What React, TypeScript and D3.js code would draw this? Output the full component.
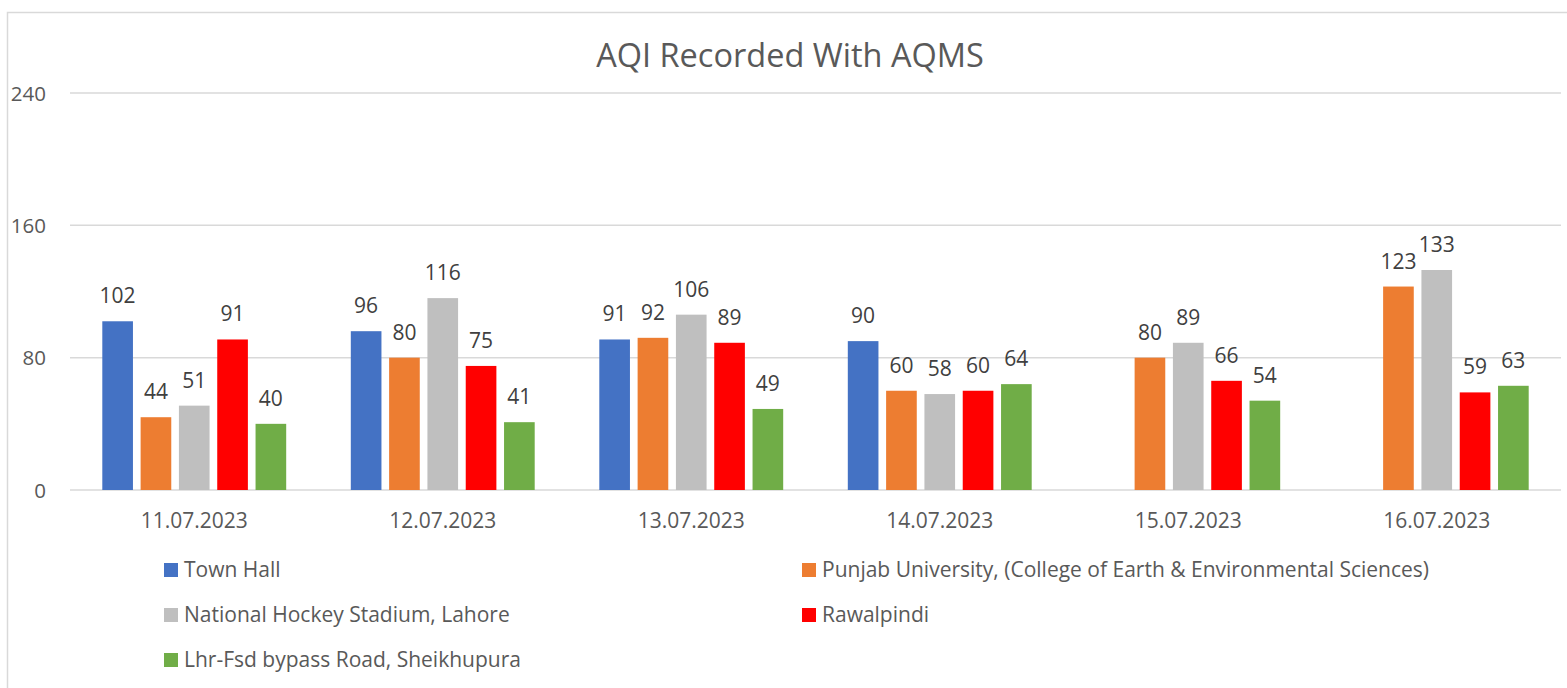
import React, { useEffect, useRef } from "react";
import * as d3 from "d3";

const dates = ["11.07.2023", "12.07.2023", "13.07.2023", "14.07.2023", "15.07.2023", "16.07.2023"];
const stations = [
  "Town Hall",
  "Punjab University, (College of Earth & Environmental Sciences)",
  "National Hockey Stadium, Lahore",
  "Rawalpindi",
  "Lhr-Fsd bypass Road, Sheikhupura",
];
const townHall = [102, 96, 91, 90, null, null];
const punjabUni = [44, 80, 92, 60, 80, 123];
const hockeyStadium = [51, 116, 106, 58, 89, 133];
const rawalpindi = [91, 75, 89, 60, 66, 59];
const sheikhupura = [40, 41, 49, 64, 54, 63];
const yTicks = [0, 80, 160, 240];
const colors = ["#4472C4", "#ED7D31", "#BFBFBF", "#FF0000", "#70AD47"];

const seriesValues = [townHall, punjabUni, hockeyStadium, rawalpindi, sheikhupura];

const App: React.FC = () => {
  const ref = useRef<SVGSVGElement>(null);

  useEffect(() => {
    document.body.style.margin = "0";
    const width = 1567;
    const height = 688;
    const font = "'Open Sans', sans-serif";
    const textColor = "#595959";
    const gridColor = "#d9d9d9";

    const svg = d3.select(ref.current).attr("width", width).attr("height", height);
    svg.selectAll("*").remove();

    // chart frame, cut off at right and bottom like the screenshot
    svg.append("rect")
      .attr("x", 7.5).attr("y", 12.5)
      .attr("width", width + 20).attr("height", height + 20)
      .attr("fill", "white").attr("stroke", gridColor).attr("stroke-width", 1.5);

    svg.append("text")
      .attr("x", 790).attr("y", 67)
      .attr("text-anchor", "middle")
      .attr("font-family", font).attr("font-size", 32.5)
      .attr("fill", textColor)
      .text("AQI Recorded With AQMS");

    const y = d3.scaleLinear().domain([0, 240]).range([490, 93]);
    const x = d3.scaleBand<string>().domain(dates).range([70, 1561]);
    const groupW = x.bandwidth() * 0.74;
    const xs = d3.scaleBand<string>().domain(stations).range([0, groupW]).paddingInner(0.2);
    const groupOffset = (x.bandwidth() - groupW) / 2;

    // grid lines + y labels
    const grid = svg.append("g");
    yTicks.forEach((t) => {
      grid.append("line")
        .attr("x1", 70).attr("x2", 1561)
        .attr("y1", y(t)).attr("y2", y(t))
        .attr("stroke", gridColor).attr("stroke-width", 1.5);
      grid.append("text")
        .attr("x", 46).attr("y", y(t) + 7.5)
        .attr("text-anchor", "end")
        .attr("font-family", font).attr("font-size", 20.5)
        .attr("fill", textColor)
        .text(t);
    });

    // bars and value labels
    stations.forEach((s, si) => {
      const g = svg.append("g");
      seriesValues[si].forEach((v, di) => {
        if (v == null) return;
        const bx = (x(dates[di]) as number) + groupOffset + (xs(s) as number);
        g.append("rect")
          .attr("x", bx).attr("y", y(v))
          .attr("width", xs.bandwidth()).attr("height", y(0) - y(v))
          .attr("fill", colors[si]);
        g.append("text")
          .attr("x", bx + xs.bandwidth() / 2).attr("y", y(v) - 18)
          .attr("text-anchor", "middle")
          .attr("font-family", font).attr("font-size", 21)
          .attr("fill", "#404040")
          .text(v);
      });
    });

    // x labels
    dates.forEach((d) => {
      svg.append("text")
        .attr("x", (x(d) as number) + x.bandwidth() / 2).attr("y", 528)
        .attr("text-anchor", "middle")
        .attr("font-family", font).attr("font-size", 21)
        .attr("fill", textColor)
        .text(d);
    });

    // legend: two columns
    const legendPos = [
      [164, 577], [802, 577],
      [164, 622], [802, 622],
      [164, 667],
    ];
    stations.forEach((s, i) => {
      const [lx, ly] = legendPos[i];
      svg.append("rect")
        .attr("x", lx).attr("y", ly - 14)
        .attr("width", 14).attr("height", 14)
        .attr("fill", colors[i]);
      svg.append("text")
        .attr("x", lx + 20).attr("y", ly)
        .attr("font-family", font).attr("font-size", 21)
        .attr("fill", textColor)
        .text(s);
    });

    return () => {
      svg.selectAll("*").remove();
    };
  }, []);

  return <svg ref={ref} style={{ display: "block" }}></svg>;
};

export default App;
